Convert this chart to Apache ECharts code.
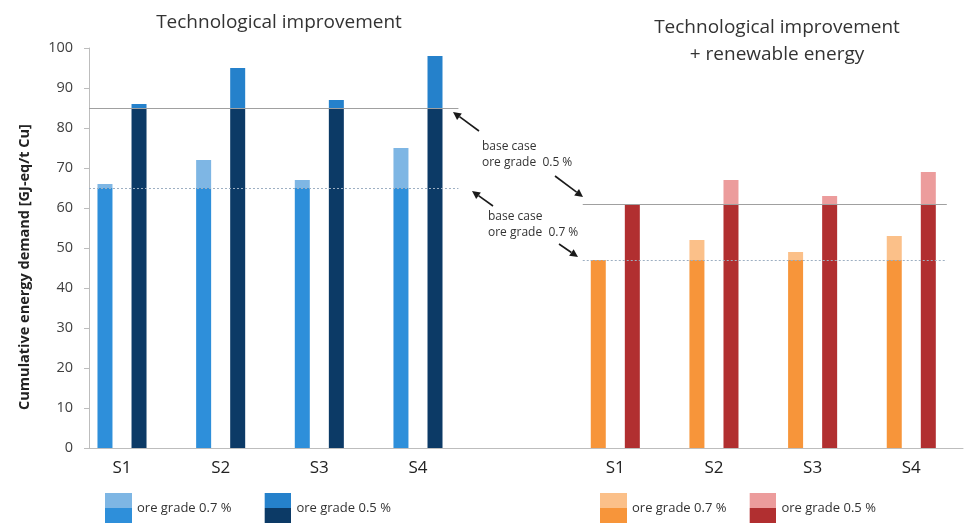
<!DOCTYPE html>
<html><head><meta charset="utf-8">
<script src="https://cdn.jsdelivr.net/npm/echarts@6/dist/echarts.min.js"></script>
<style>html,body{margin:0;padding:0;background:#fff}#c{width:967px;height:525px}</style>
</head><body><div id="c"></div>
<script>
// ---- data ----
const categories = ['S1', 'S2', 'S3', 'S4'];
const techTotal07 = [66, 72, 67, 75];   // Technological improvement, ore grade 0.7 %
const techTotal05 = [86, 95, 87, 98];   // Technological improvement, ore grade 0.5 %
const renTotal07 = [47, 52, 49, 53];    // + renewable energy, ore grade 0.7 %
const renTotal05 = [61, 67, 63, 69];    // + renewable energy, ore grade 0.5 %
const techBaseCase = [65, 85];          // base case: ore grade 0.7 %, 0.5 %
const renBaseCase = [47, 61];
const yTickValues = [0, 10, 20, 30, 40, 50, 60, 70, 80, 90, 100];
const legendNames = ['ore grade 0.7 %', 'ore grade 0.5 %'];
const panelTitles = ['Technological improvement', 'Technological improvement\n+ renewable energy'];
const yAxisName = 'Cumulative energy demand [GJ-eq/t Cu]';
const noteTexts = ['base case\nore grade  0.5 %', 'base case\nore grade  0.7 %'];

// ---- styling ----
const FONT = '"Open Sans", "Noto Sans", sans-serif';
const techColors = { base07: '#2E8FDA', extra07: '#7EB6E4', base05: '#0C3A66', extra05: '#2581CB' };
const renColors = { base07: '#F7953A', extra07: '#FBC089', base05: '#B12F30', extra05: '#EC9C9C' };

// full category row: left panel, one empty gap slot, right panel
const xCats = categories.concat([''], categories);
const techIdx = categories.map((_, i) => i);
const renIdx = categories.map((_, i) => i + categories.length + 1);

// pixel layout
const BAND = 98.66, FIRST_CENTER = 122, AXIS_LEFT = 89, AXIS_RIGHT = 963, W = 967;
const barGridLeft = FIRST_CENTER - BAND / 2;
const barGridRight = W - (barGridLeft + BAND * xCats.length);
// value x-axis (axes grid) aligned so that value k+1 sits on category k
const X_MIN = 1 - (FIRST_CENTER - AXIS_LEFT) / BAND;
const X_MAX = X_MIN + (AXIS_RIGHT - AXIS_LEFT) / BAND;

function swatch(top, bottom) {
  const svg = '<svg xmlns="http://www.w3.org/2000/svg" width="27" height="30">' +
    '<rect x="0" y="0" width="27" height="15" fill="' + top + '"/>' +
    '<rect x="0" y="15" width="27" height="15" fill="' + bottom + '"/></svg>';
  return 'image://data:image/svg+xml;charset=utf-8,' + encodeURIComponent(svg);
}

function panelSeries(idx, tot07, tot05, base, col) {
  const common = { type: 'bar', xAxisIndex: 0, yAxisIndex: 0, barWidth: 15, barGap: '127%', silent: true };
  return [
    Object.assign({}, common, {
      name: legendNames[0], stack: 'g07', itemStyle: { color: col.base07 },
      data: idx.map((x, i) => [x, Math.min(tot07[i], base[0])])
    }),
    Object.assign({}, common, {
      name: legendNames[0] + ' (increase)', stack: 'g07', itemStyle: { color: col.extra07 },
      data: idx.map((x, i) => [x, Math.max(0, tot07[i] - base[0])])
    }),
    Object.assign({}, common, {
      name: legendNames[1], stack: 'g05', itemStyle: { color: col.base05 },
      data: idx.map((x, i) => [x, Math.min(tot05[i], base[1])])
    }),
    Object.assign({}, common, {
      name: legendNames[1] + ' (increase)', stack: 'g05', itemStyle: { color: col.extra05 },
      data: idx.map((x, i) => [x, Math.max(0, tot05[i] - base[1])])
    })
  ];
}

function baseCaseLines(base, range) {
  return [
    [{ coord: [range[0], base[1]], lineStyle: { color: '#A0A0A0', type: 'solid', width: 1 } },
     { coord: [range[1], base[1]] }],
    [{ coord: [range[0], base[0]], lineStyle: { color: '#9DAFC2', type: [2, 2], width: 1.2 } },
     { coord: [range[1], base[0]] }]
  ];
}

function arrow(x1, y1, x2, y2) {
  const ang = Math.atan2(y2 - y1, x2 - x1), L = 8, HW = 4;
  const bx = x2 - L * Math.cos(ang), by = y2 - L * Math.sin(ang);
  const nx = -Math.sin(ang), ny = Math.cos(ang);
  return [
    { type: 'line', silent: true, shape: { x1: x1, y1: y1, x2: bx, y2: by }, style: { stroke: '#1a1a1a', lineWidth: 1.6 } },
    { type: 'polygon', silent: true, shape: { points: [[x2, y2], [bx + nx * HW, by + ny * HW], [bx - nx * HW, by - ny * HW]] }, style: { fill: '#1a1a1a' } }
  ];
}

const TOP = 48, BOTTOM = 77;
const tPos = techIdx.map(i => i + 1), rPos = renIdx.map(i => i + 1);

const option = {
  backgroundColor: '#ffffff',
  animation: false,
  textStyle: { fontFamily: FONT },
  title: [
    { text: panelTitles[0], left: 274, top: 8, textAlign: 'center',
      textStyle: { fontFamily: FONT, fontSize: 19, fontWeight: 'normal', color: '#333' } },
    { text: panelTitles[1], left: 772, top: 9, textAlign: 'center',
      textStyle: { fontFamily: FONT, fontSize: 19, fontWeight: 'normal', color: '#333', lineHeight: 27 } }
  ],
  legend: [
    { left: 100, top: 488, itemWidth: 27, itemHeight: 30, itemGap: 33, selectedMode: false,
      textStyle: { fontFamily: FONT, fontSize: 13, color: '#333' },
      data: [{ name: legendNames[0], icon: swatch(techColors.extra07, techColors.base07) },
             { name: legendNames[1], icon: swatch(techColors.extra05, techColors.base05) }] },
    { left: 595, top: 488, itemWidth: 27, itemHeight: 30, itemGap: 23, selectedMode: false,
      textStyle: { fontFamily: FONT, fontSize: 13, color: '#333' },
      data: [{ name: legendNames[0], icon: swatch(renColors.extra07, renColors.base07) },
             { name: legendNames[1], icon: swatch(renColors.extra05, renColors.base05) }] }
  ],
  grid: [
    { left: barGridLeft, right: barGridRight, top: TOP, bottom: BOTTOM },   // bars
    { left: AXIS_LEFT, right: W - AXIS_RIGHT, top: TOP, bottom: BOTTOM }     // visible axes
  ],
  xAxis: [
    { type: 'category', gridIndex: 0, data: xCats, boundaryGap: true,
      axisLine: { show: false }, axisTick: { show: false }, splitLine: { show: false },
      axisLabel: { interval: 0, fontFamily: FONT, fontSize: 17, color: '#222', margin: 12 } },
    { type: 'value', gridIndex: 1, min: X_MIN, max: X_MAX,
      axisLine: { show: true, lineStyle: { color: '#BDBDBD', width: 1 } },
      axisTick: { show: false }, axisLabel: { show: false }, splitLine: { show: false } }
  ],
  yAxis: [
    { type: 'value', gridIndex: 0, min: yTickValues[0], max: yTickValues[yTickValues.length - 1], show: false },
    { type: 'value', gridIndex: 1, min: yTickValues[0], max: yTickValues[yTickValues.length - 1],
      interval: yTickValues[1] - yTickValues[0],
      axisLine: { show: true, lineStyle: { color: '#BDBDBD' } },
      axisTick: { show: true, inside: false, length: 5, lineStyle: { color: '#BDBDBD' } },
      splitLine: { show: false },
      axisLabel: { fontFamily: FONT, fontSize: 14.5, color: '#404040', margin: 16 } }
  ],
  series: [].concat(
    panelSeries(techIdx, techTotal07, techTotal05, techBaseCase, techColors),
    panelSeries(renIdx, renTotal07, renTotal05, renBaseCase, renColors),
    [{
      type: 'line', name: 'base case', xAxisIndex: 1, yAxisIndex: 1, data: [], silent: true,
      markLine: {
        silent: true, symbol: 'none', label: { show: false }, animation: false,
        data: baseCaseLines(techBaseCase, [X_MIN, tPos[3] + 0.41])
          .concat(baseCaseLines(renBaseCase, [rPos[0] - 0.33, rPos[3] + 0.36]))
      }
    }]
  ),
  graphic: [].concat(
    [
      { type: 'text', silent: true, x: 25, y: 267, rotation: Math.PI / 2,
        style: { text: yAxisName, font: 'bold 14.5px ' + FONT, fill: '#222', align: 'center', verticalAlign: 'middle' } },
      { type: 'text', silent: true, style: { x: 482, y: 139, text: noteTexts[0], font: '12px ' + FONT, fill: '#333', lineHeight: 16, verticalAlign: 'top' } },
      { type: 'text', silent: true, style: { x: 488, y: 209, text: noteTexts[1], font: '12px ' + FONT, fill: '#333', lineHeight: 16, verticalAlign: 'top' } }
    ],
    arrow(479, 131, 453, 112),
    arrow(555, 176, 583, 197),
    arrow(493, 206, 472, 191),
    arrow(559, 244, 578, 257)
  )
};

const chart = echarts.init(document.getElementById('c'), null, { renderer: 'canvas' });
chart.setOption(option);
</script>
</body></html>
